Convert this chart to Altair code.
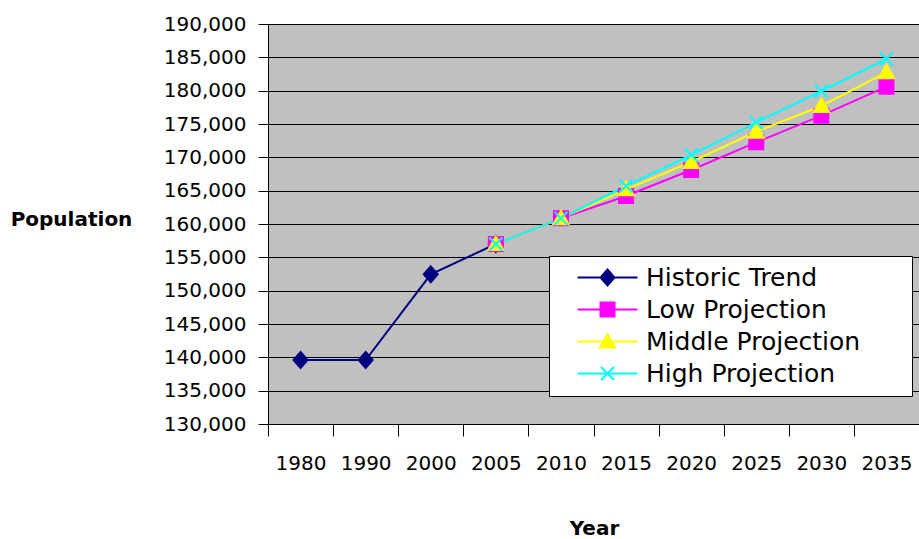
import altair as alt
import pandas as pd

YEARS = ["1980", "1990", "2000", "2005", "2010", "2015", "2020", "2025", "2030", "2035"]
SERIES = ["Historic Trend", "Low Projection", "Middle Projection", "High Projection"]
COLORS = ["#000080", "#FF00FF", "#FFFF00", "#00FFFF"]

HIST_YEARS = ["1980", "1990", "2000", "2005"]
HIST = [139600, 139600, 152450, 157000]
PROJ_YEARS = ["2005", "2010", "2015", "2020", "2025", "2030", "2035"]
LOW = [157000, 160850, 164200, 168100, 172250, 176250, 180600]
MID = [157000, 160850, 165200, 169300, 173850, 177700, 182750]
HIGH = [157000, 160850, 165700, 170350, 175250, 179950, 184750]

rows = []
for y, v in zip(HIST_YEARS, HIST):
    rows.append({"year": y, "series": SERIES[0], "value": v})
for name, vals in zip(SERIES[1:], [LOW, MID, HIGH]):
    for y, v in zip(PROJ_YEARS, vals):
        rows.append({"year": y, "series": name, "value": v})
df = pd.DataFrame(rows)

# marker shapes (unit = sqrt(size)/2 px)
MARKERS = [
    "M0,-0.8L0.7,0L0,0.8L-0.7,0Z",
    "M-0.7,-0.7H0.7V0.7H-0.7Z",
    "M0,-0.75L0.75,0.6H-0.75Z",
    "M-0.65,-0.65L0.65,0.65M-0.65,0.65L0.65,-0.65",
]
# legend symbol: line + marker, with a trailing move-to that widens the legend box
LEGEND_SHAPES = ["M-3,0H3" + m + "M29.1,0" for m in MARKERS]

x_enc = alt.X(
    "year:N", sort=YEARS, title="Year",
    scale=alt.Scale(type="band", paddingInner=0, paddingOuter=0, domain=YEARS),
    axis=alt.Axis(labelAngle=0, tickBand="extent", tickSize=12, tickColor="black",
                  domainColor="black", labelFont="DejaVu Sans", labelFontSize=20,
                  labelColor="black", labelPadding=17, titleFont="DejaVu Sans",
                  titleFontSize=20, titleFontWeight="bold", titleColor="black",
                  titleX=326, titleY=104, titleBaseline="middle", grid=False),
)
y_enc = alt.Y(
    "value:Q", title="Population",
    scale=alt.Scale(domain=[130000, 190000], nice=False, zero=False),
    axis=alt.Axis(values=list(range(130000, 190001, 5000)), format=",d",
                  tickSize=10, tickColor="black", domainColor="black",
                  labelFont="DejaVu Sans", labelFontSize=20, labelColor="black",
                  labelPadding=12, grid=True, gridColor="black", gridOpacity=1,
                  titleFont="DejaVu Sans", titleFontSize=20, titleFontWeight="bold",
                  titleColor="black", titleAngle=0, titleX=-197, titleY=195,
                  titleAlign="center", titleBaseline="middle"),
)

cscale = alt.Scale(domain=SERIES, range=COLORS)
legend = alt.Legend(
    title=None, orient="none", legendX=281, legendY=232, fillColor="white",
    strokeColor="black", padding=9, labelFont="DejaVu Sans", labelFontSize=25,
    labelColor="black", labelLimit=500, rowPadding=6, symbolSize=400,
    symbolStrokeWidth=2, symbolOffset=37, labelOffset=26, symbolOpacity=1,
)

base = alt.Chart(df)

lines = base.mark_line(strokeWidth=2).encode(
    x=x_enc, y=y_enc,
    color=alt.Color("series:N", scale=cscale, legend=None),
)

points = base.mark_point(filled=True, size=400, strokeWidth=2, opacity=1).encode(
    x=x_enc, y=y_enc,
    color=alt.Color("series:N", scale=cscale, legend=None),
    stroke=alt.Stroke("series:N", scale=cscale, legend=None),
    shape=alt.Shape("series:N", scale=alt.Scale(domain=SERIES, range=MARKERS), legend=None),
)

legend_layer = base.mark_point(filled=True, size=400, strokeWidth=2, opacity=0).encode(
    x=x_enc, y=y_enc,
    color=alt.Color("series:N", scale=cscale, legend=legend),
    stroke=alt.Stroke("series:N", scale=cscale, legend=legend),
    shape=alt.Shape("series:N", scale=alt.Scale(domain=SERIES, range=LEGEND_SHAPES), legend=legend),
)

chart = alt.layer(lines, points, legend_layer).resolve_scale(
    color="independent", shape="independent", stroke="independent"
).properties(
    width=651, height=400,
    autosize=alt.AutoSizeParams(type="none"),
    padding={"left": 268, "top": 24, "right": 0, "bottom": 115},
    background="white",
).configure_view(fill="#C0C0C0", stroke="#808080")

chart.save("out.html", embed_options={"renderer": "svg", "actions": False})
